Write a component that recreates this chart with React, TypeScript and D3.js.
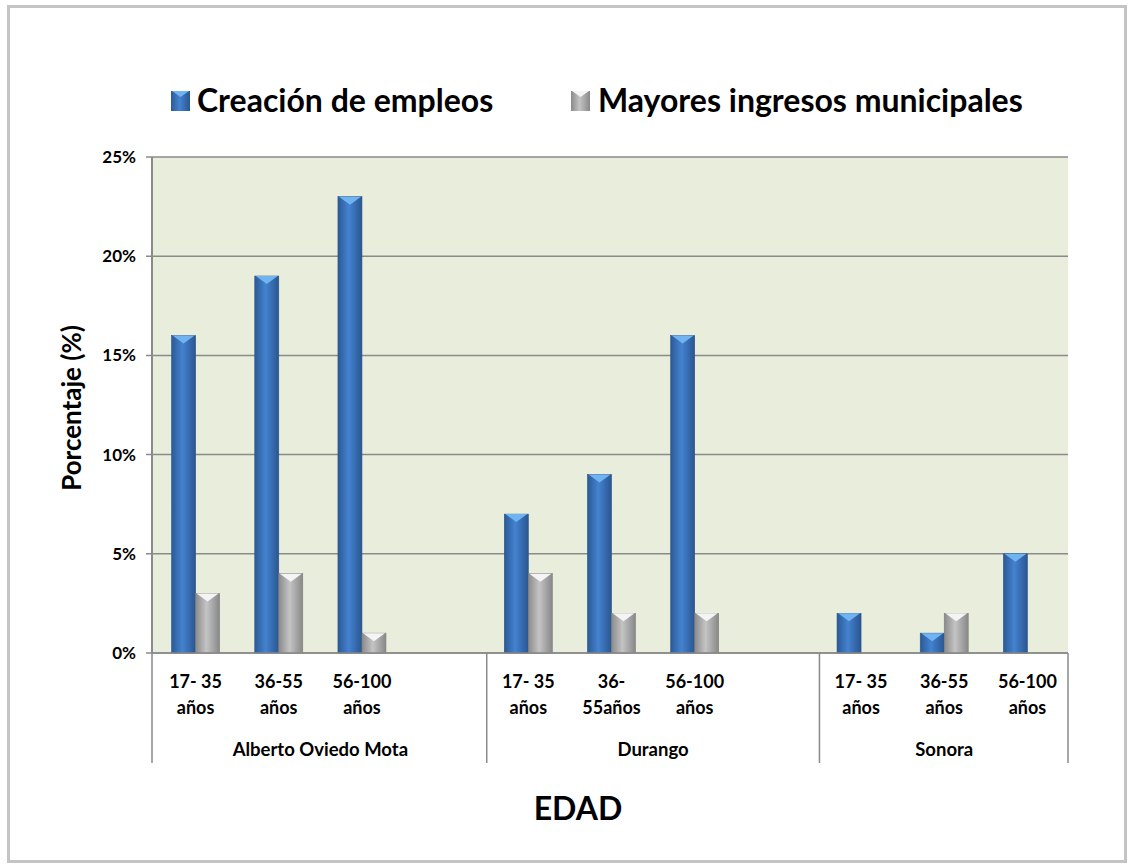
import React from "react";
import * as d3 from "d3";

const groups = ["Alberto Oviedo Mota", "Durango", "Sonora"];
const slots = [
  { group: "Alberto Oviedo Mota", label: ["17- 35", "años"] },
  { group: "Alberto Oviedo Mota", label: ["36-55", "años"] },
  { group: "Alberto Oviedo Mota", label: ["56-100", "años"] },
  { group: "Alberto Oviedo Mota", label: null },
  { group: "Durango", label: ["17- 35", "años"] },
  { group: "Durango", label: ["36-", "55años"] },
  { group: "Durango", label: ["56-100", "años"] },
  { group: "Durango", label: null },
  { group: "Sonora", label: ["17- 35", "años"] },
  { group: "Sonora", label: ["36-55", "años"] },
  { group: "Sonora", label: ["56-100", "años"] },
];
const creacion: (number | null)[] = [16, 19, 23, null, 7, 9, 16, null, 2, 1, 5];
const mayores: (number | null)[] = [3, 4, 1, null, 4, 2, 2, null, 0, 2, 0];
const yTicks = [0, 5, 10, 15, 20, 25];
const seriesNames = ["Creación de empleos", "Mayores ingresos municipales"];

const FONT = "Lato, 'Open Sans', sans-serif";

export default function App() {
  const W = 1129, H = 865;
  const left = 152, right = 1068, top = 157, bottom = 653;
  const x = d3.scaleBand<number>().domain(d3.range(slots.length)).range([left + 2, right + 1]).paddingInner(0).paddingOuter(0);
  const y = d3.scaleLinear().domain([0, 25]).range([bottom, top]);
  const bw = 24;

  const groupBounds = groups.map((g) => {
    const idx = slots.map((s, i) => (s.group === g ? i : -1)).filter((i) => i >= 0);
    const x0 = x(idx[0])!;
    const x1 = x(idx[idx.length - 1])! + x.bandwidth();
    return { g, x0, x1 };
  });
  const seps = [left, groupBounds[0].x1, groupBounds[1].x1, right];

  const bar = (v: number | null, i: number, s: number) => {
    if (v == null || v <= 0) return null;
    const c = x(i)! + x.bandwidth() / 2;
    const x0 = s === 0 ? c - bw : c;
    const yt = y(v);
    const h = bottom - yt;
    const tri = Math.min(8, h);
    return (
      <g key={`${s}-${i}`}>
        <rect x={x0} y={yt} width={bw} height={h} fill={s === 0 ? "url(#gBlue)" : "url(#gGray)"} stroke={s === 0 ? "#2a5288" : "#7d7d7d"} strokeWidth={0.6} />
        <polygon points={`${x0 + 1},${yt} ${x0 + bw - 1},${yt} ${x0 + bw / 2},${yt + tri}`} fill={s === 0 ? "#6fb3f0" : "#f4f4f4"} />
      </g>
    );
  };

  return (
    <svg width={W} height={H} style={{ position: "absolute", left: 0, top: 0 }} fontFamily={FONT}>
      <defs>
        <linearGradient id="gBlue" x1="0" x2="1" y1="0" y2="0">
          <stop offset="0" stopColor="#2b5a96" />
          <stop offset="0.45" stopColor="#4482d0" />
          <stop offset="1" stopColor="#2a5690" />
        </linearGradient>
        <linearGradient id="gGray" x1="0" x2="1" y1="0" y2="0">
          <stop offset="0" stopColor="#8a8a8a" />
          <stop offset="0.45" stopColor="#c4c4c4" />
          <stop offset="1" stopColor="#888888" />
        </linearGradient>
      </defs>
      <rect x={0} y={0} width={W} height={H} fill="#fff" />
      <rect x={8.5} y={6.5} width={1117} height={855} fill="#fff" stroke="#c4c4c4" strokeWidth={3} />

      {/* Legend */}
      <rect x={171} y={91} width={19} height={20} fill="url(#gBlue)" />
      <polygon points="172,91 189,91 180.5,97" fill="#6fb3f0" />
      <text x={197} y={112} fontSize={32} fontWeight={700} fill="#000">{seriesNames[0]}</text>
      <rect x={571} y={91} width={19} height={20} fill="url(#gGray)" />
      <polygon points="572,91 589,91 580.5,97" fill="#f4f4f4" />
      <text x={598} y={112} fontSize={32} fontWeight={700} fill="#000">{seriesNames[1]}</text>

      {/* plot area */}
      <rect x={left} y={top} width={right - left} height={bottom - top} fill="#e9eedc" />
      {yTicks.map((t) => (
        <g key={t}>
          <line x1={left - 6} x2={right} y1={y(t)} y2={y(t)} stroke="#8a8a8a" strokeWidth={1.5} />
          <text x={136} y={y(t) + 6} fontSize={17} fontWeight={700} textAnchor="end" fill="#000">{t}%</text>
        </g>
      ))}
      <line x1={left} x2={left} y1={top} y2={bottom} stroke="#8a8a8a" strokeWidth={2} />

      {creacion.map((v, i) => bar(v, i, 0))}
      {mayores.map((v, i) => bar(v, i, 1))}

      {/* category axis */}
      <line x1={left} x2={right} y1={bottom} y2={bottom} stroke="#8a8a8a" strokeWidth={1.5} />
      {seps.map((s, i) => (
        <line key={i} x1={s} x2={s} y1={bottom} y2={763} stroke="#8a8a8a" strokeWidth={1.5} />
      ))}
      {slots.map((s, i) =>
        s.label ? (
          <text key={i} x={x(i)! + x.bandwidth() / 2} fontSize={18} fontWeight={700} textAnchor="middle" fill="#000">
            <tspan x={x(i)! + x.bandwidth() / 2} y={688}>{s.label[0]}</tspan>
            <tspan x={x(i)! + x.bandwidth() / 2} y={714}>{s.label[1]}</tspan>
          </text>
        ) : null
      )}
      {groupBounds.map((gb) => (
        <text key={gb.g} x={(gb.x0 + gb.x1) / 2} y={756} fontSize={18.5} fontWeight={700} textAnchor="middle" fill="#000">{gb.g}</text>
      ))}

      <text transform={`translate(81,${(top + bottom) / 2 + 3}) rotate(-90)`} fontSize={26} fontWeight={700} textAnchor="middle" fill="#000">Porcentaje (%)</text>
      <text x={578} y={820} fontSize={32} fontWeight={700} textAnchor="middle" fill="#000">EDAD</text>
    </svg>
  );
}
